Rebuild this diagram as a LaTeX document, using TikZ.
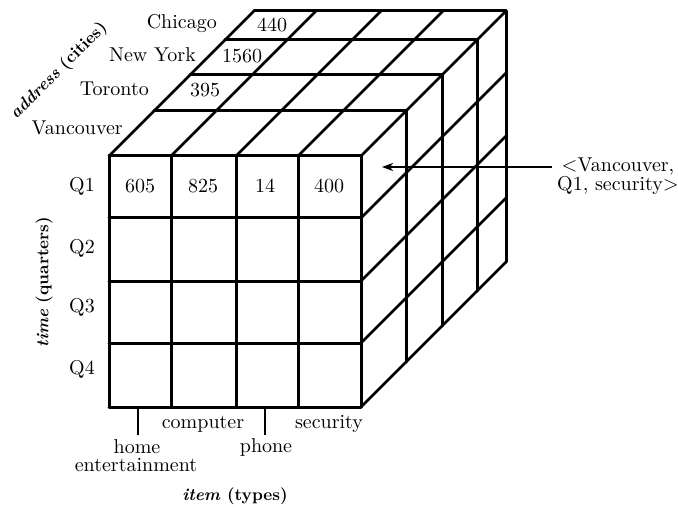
\documentclass[tikz,border=0pt]{standalone}
\usepackage{fontspec}
\setmainfont{lmroman10}[Extension=.otf, UprightFont=*-regular, ItalicFont=*-italic, BoldFont=*-bold, BoldItalicFont=*-bolditalic]
\usetikzlibrary{arrows.meta}
\begin{document}
\begin{tikzpicture}[x=1pt,y=-1pt,
  every node/.style={font=\fontsize{20}{21}\selectfont, inner sep=0pt},
  axis/.style={font=\fontsize{17}{19}\selectfont\bfseries},
  edge/.style={line width=3pt, line cap=round, line join=round},
  diag/.style={line width=2.5pt, line cap=round},
  tick/.style={line width=1.4pt},
  arrowline/.style={line width=1.6pt, -{Stealth[length=11pt,width=8pt,inset=3pt]}}
]
\useasboundingbox (0,0) rectangle (678,508);
\def\dfull{145}
% front face grid
\foreach \y in {156,218,281,343,407} \draw[edge] (109,\y) -- (361,\y);
\foreach \x in {109,171,236,298,361} \draw[edge] (\x,156) -- (\x,407);
% top face: layer lines
\foreach \d in {45,81,116,145} \draw[edge] (109+\d,156-\d) -- (361+\d,156-\d);
% top face: column diagonals
\foreach \x in {109,171,236,298,361} \draw[diag] (\x,156) -- (\x+\dfull,156-\dfull);
% right face: verticals
\foreach \d in {45,81,116,145} \draw[edge] (361+\d,156-\d) -- (361+\d,407-\d);
% right face: row diagonals
\foreach \y in {218,281,343,407} \draw[diag] (361,\y) -- (361+\dfull,\y-\dfull);

% city labels
\node[anchor=east] (chi) at (217,24) {Chicago};
\node[anchor=east] (ny) at (196,55) {New York};
\node[anchor=east] (tor) at (149,89) {Toronto};
\node[anchor=east] (van) at (123,128) {Vancouver};
\node[axis, rotate=45] (addr) at (59,71) {\textit{address} (cities)};

% top values
\node (v440) at (272,25) {440};
\node (v1560) at (242,56) {1560};
\node (v395) at (205,90) {395};

% front values
\node (v605) at (140,186) {605};
\node (v825) at (203,186) {825};
\node (v14) at (265,186) {14};
\node (v400) at (329,186) {400};

% quarter labels
\node (q1) at (82,186) {Q1};
\node (q2) at (82,248) {Q2};
\node (q3) at (82,307) {Q3};
\node (q4) at (82,369) {Q4};
\node[axis, rotate=90] (time) at (44,282) {\textit{time} (quarters)};

% item labels
\coordinate (t1a) at (138,407);
\coordinate (t1b) at (138,435);
\coordinate (t2a) at (265,407);
\coordinate (t2b) at (265,435);
\draw[tick] (t1a) -- (t1b);
\draw[tick] (t2a) -- (t2b);
\node (comp) at (203,424) {computer};
\node (sec) at (329,424) {security};
\node (home) at (137,447) {home};
\node (ent) at (136,465) {entertainment};
\node (phone) at (266,447) {phone};
\node[axis] (item) at (235,496) {\textit{item} (types)};

% pointer
\node[align=center] (cell) at (618,176) {$<$Vancouver,\\[-2pt]Q1, security$>$};
\coordinate (tip) at (382,167);
\draw[arrowline] (cell.west |- tip) ++(-5,0) coordinate (tail) -- (tip);
\end{tikzpicture}
\end{document}
